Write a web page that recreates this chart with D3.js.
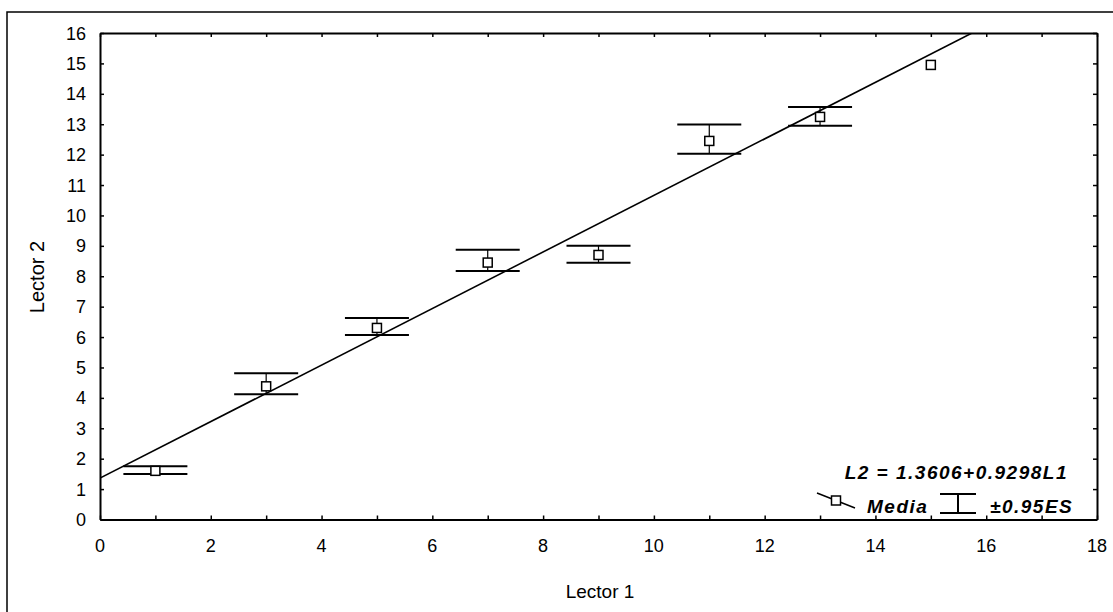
<!DOCTYPE html>
<html>
<head>
<meta charset="utf-8">
<script src="https://cdn.jsdelivr.net/npm/d3@7"></script>
<style>
    body { margin: 0; background: #fff; }
    text { font-family: "Liberation Sans", Arial, sans-serif; fill: #000; }
</style>
</head>
<body>
<script>
const lector1 = [1, 3, 5, 7, 9, 11, 13, 15]
const media = [1.6, 4.38, 6.3, 8.45, 8.7, 12.45, 13.24, 14.95]
// last group has a single reading: no error bar drawn
const esLow = [1.5, 4.12, 6.07, 8.17, 8.44, 12.03, 12.95, null]
const esHigh = [1.75, 4.81, 6.63, 8.87, 9.0, 12.99, 13.57, null]

const intercept = 1.3606
const slope = 0.9298

const xTickLabels = d3.range(0, 19, 2)
const yTickLabels = d3.range(0, 17, 1)

const WIDTH = 1113
const HEIGHT = 612

const PLOT = { left: 100, right: 1097, top: 33, bottom: 519.5 }
const CAP = 32
const BOX = 9

const svg = d3
    .select("body")
    .append("svg")
    .attr("width", WIDTH)
    .attr("height", HEIGHT)

const x = d3.scaleLinear().domain([0, 18]).range([PLOT.left, PLOT.right])
const y = d3.scaleLinear().domain([0, 16]).range([PLOT.bottom, PLOT.top])

// outer frame (only top and left edges are inside the picture)
svg.append("path")
    .attr("d", `M7,${HEIGHT} L7,12 L${WIDTH},12`)
    .attr("fill", "none")
    .attr("stroke", "#000")
    .attr("stroke-width", 1.5)

svg.append("defs")
    .append("clipPath")
    .attr("id", "plot-clip")
    .append("rect")
    .attr("x", PLOT.left)
    .attr("y", PLOT.top)
    .attr("width", PLOT.right - PLOT.left)
    .attr("height", PLOT.bottom - PLOT.top)

// axes: inward ticks on all four sides
const axisStyle = g => {
    g.select(".domain").attr("stroke-width", 2)
    g.selectAll(".tick line").attr("stroke-width", 1.5)
    g.selectAll(".tick text").remove()
}

svg.append("g")
    .attr("transform", `translate(0,${PLOT.bottom})`)
    .call(d3.axisBottom(x).ticks(18).tickSizeInner(-4).tickSizeOuter(0))
    .call(axisStyle)

svg.append("g")
    .attr("transform", `translate(0,${PLOT.top})`)
    .call(d3.axisTop(x).ticks(18).tickSizeInner(-4).tickSizeOuter(0))
    .call(axisStyle)

svg.append("g")
    .attr("transform", `translate(${PLOT.left},0)`)
    .call(d3.axisLeft(y).ticks(16).tickSizeInner(-4).tickSizeOuter(0))
    .call(axisStyle)

svg.append("g")
    .attr("transform", `translate(${PLOT.right},0)`)
    .call(d3.axisRight(y).ticks(16).tickSizeInner(-4).tickSizeOuter(0))
    .call(axisStyle)

svg.selectAll(".xlabel")
    .data(xTickLabels)
    .enter()
    .append("text")
    .attr("x", d => x(d))
    .attr("y", 552)
    .attr("text-anchor", "middle")
    .attr("font-size", "18px")
    .text(d => d)

svg.selectAll(".ylabel")
    .data(yTickLabels)
    .enter()
    .append("text")
    .attr("x", 86)
    .attr("y", d => y(d) + 6.5)
    .attr("text-anchor", "end")
    .attr("font-size", "18px")
    .text(d => d)

svg.append("text")
    .attr("x", 600)
    .attr("y", 598)
    .attr("text-anchor", "middle")
    .attr("font-size", "19px")
    .text("Lector 1")

svg.append("text")
    .attr("transform", "translate(44,277) rotate(-90)")
    .attr("text-anchor", "middle")
    .attr("font-size", "20px")
    .text("Lector 2")

// regression line
const line = d3.line()
    .x(d => x(d))
    .y(d => y(intercept + slope * d))

svg.append("path")
    .datum([0, 18])
    .attr("d", line)
    .attr("clip-path", "url(#plot-clip)")
    .attr("fill", "none")
    .attr("stroke", "#000")
    .attr("stroke-width", 1.6)

// error bars and means
const points = svg.selectAll(".point")
    .data(lector1)
    .enter()
    .append("g")
    .attr("class", "point")

points.each(function (d, i) {
    const g = d3.select(this)
    const cx = x(d)

    if (esHigh[i] != null) {
        g.append("line")
            .attr("x1", cx).attr("x2", cx)
            .attr("y1", y(esHigh[i])).attr("y2", y(esLow[i]))
            .attr("stroke", "#000")
            .attr("stroke-width", 1.2)

        ;[esHigh[i], esLow[i]].forEach(v => {
            g.append("line")
                .attr("x1", cx - CAP).attr("x2", cx + CAP)
                .attr("y1", y(v)).attr("y2", y(v))
                .attr("stroke", "#000")
                .attr("stroke-width", 2)
        })
    }

    g.append("rect")
        .attr("x", cx - BOX / 2)
        .attr("y", y(media[i]) - BOX / 2)
        .attr("width", BOX)
        .attr("height", BOX)
        .attr("fill", "#fff")
        .attr("stroke", "#000")
        .attr("stroke-width", 1.5)
})

// legend
const legendFont = g => g
    .attr("font-size", "19px")
    .attr("font-weight", "bold")
    .attr("font-style", "italic")
    .attr("letter-spacing", "1.5px")

svg.append("text")
    .attr("x", 1068)
    .attr("y", 479)
    .attr("text-anchor", "end")
    .call(legendFont)
    .text(`L2 = ${intercept}+${slope}L1`)

svg.append("line")
    .attr("x1", 817).attr("y1", 493)
    .attr("x2", 855).attr("y2", 508)
    .attr("stroke", "#000")
    .attr("stroke-width", 1.5)

svg.append("rect")
    .attr("x", 836 - BOX / 2)
    .attr("y", 500.5 - BOX / 2)
    .attr("width", BOX)
    .attr("height", BOX)
    .attr("fill", "#fff")
    .attr("stroke", "#000")
    .attr("stroke-width", 1.5)

svg.append("text")
    .attr("x", 867)
    .attr("y", 513)
    .call(legendFont)
    .text("Media")

svg.append("path")
    .attr("d", "M940,494 L976,494 M958,494 L958,513 M940,513 L976,513")
    .attr("fill", "none")
    .attr("stroke", "#000")
    .attr("stroke-width", 2)

svg.append("text")
    .attr("x", 990)
    .attr("y", 513)
    .call(legendFont)
    .text("±0.95ES")
</script>
</body>
</html>
